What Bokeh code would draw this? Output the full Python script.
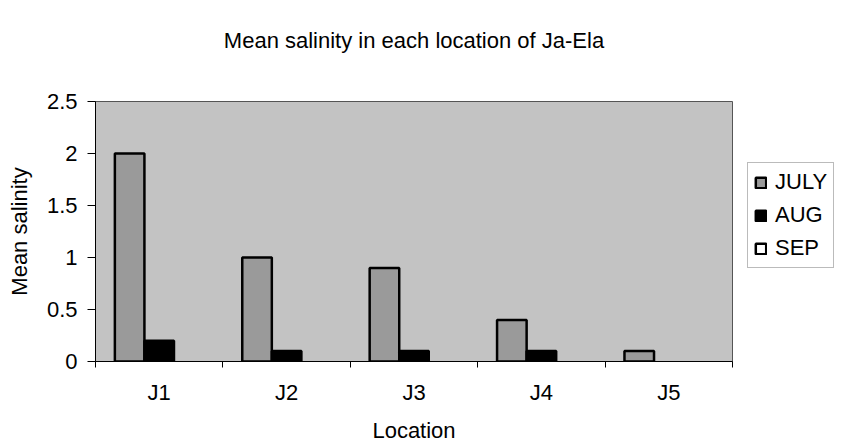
from bokeh.plotting import figure
from bokeh.models import FixedTicker, Range1d, Legend, LegendItem, ColumnDataSource, Title
from bokeh.embed import file_html
from bokeh.resources import INLINE
import numpy as np

# ---- data ----
locations = ["J1", "J2", "J3", "J4", "J5"]
series_names = ["JULY", "AUG", "SEP"]
july = [2.0, 1.0, 0.9, 0.4, 0.1]
aug = [0.2, 0.1, 0.1, 0.1, 0.0]
sep = [0.0, 0.0, 0.0, 0.0, 0.0]
y_ticks = [0, 0.5, 1, 1.5, 2, 2.5]

colors = ["#9a9a9a", "#000000", "#ffffff"]
FONT = "Liberation Sans"
FS = "22px"
bar_w = 0.232

p = figure(frame_width=637, frame_height=260, x_range=Range1d(0.5, 5.5), y_range=Range1d(0, 2.5),
           output_backend="svg", toolbar_location=None,
           min_border_left=95, min_border_right=115, min_border_top=101, min_border_bottom=80)

p.background_fill_color = "#c3c3c3"
p.border_fill_color = "white"
p.outline_line_color = "#555555"
p.outline_line_width = 1
p.xgrid.visible = False
p.ygrid.visible = False

xs = np.arange(1, len(locations) + 1)
renderers = []
for k, (name, vals) in enumerate(zip(series_names, [july, aug, sep])):
    v = np.array(vals, dtype=float)
    v_plot = np.where(v > 0, v, np.nan)   # zero-height bars are not drawn
    src = ColumnDataSource(dict(x=xs + (k - 1) * bar_w, top=v_plot))
    r = p.vbar(x="x", top="top", bottom=0, width=bar_w, source=src,
               fill_color=colors[k], line_color="black", line_width=2.5)
    renderers.append(r)

# title: a blank spacer next to the frame, then the real title above it
p.title.visible = False
p.add_layout(Title(text=" ", text_font_size="38px", standoff=0), "above")
p.add_layout(Title(text="Mean salinity in each location of Ja-Ela", text_font=FONT,
                   text_font_size=FS, text_font_style="normal", text_color="black",
                   align="center"), "above")

# x axis
xa = p.xaxis[0]
xa.ticker = FixedTicker(ticks=list(xs), minor_ticks=list(np.arange(0.5, len(locations) + 1, 1.0)))
xa.major_label_overrides = {int(i): lab for i, lab in zip(xs, locations)}
xa.major_tick_out = 0
xa.major_tick_in = 0
xa.minor_tick_out = 6
xa.minor_tick_in = 0
xa.minor_tick_line_color = "black"
xa.axis_line_color = "black"
xa.major_label_standoff = 12
xa.major_label_text_font = FONT
xa.major_label_text_font_size = FS
xa.major_label_text_color = "black"
xa.axis_label = "Location"
xa.axis_label_text_font = FONT
xa.axis_label_text_font_size = FS
xa.axis_label_text_font_style = "normal"
xa.axis_label_text_color = "black"
xa.axis_label_standoff = 10

# y axis
ya = p.yaxis[0]
ya.ticker = FixedTicker(ticks=y_ticks, minor_ticks=[])
ya.major_label_overrides = {t: f"{t:g}" for t in y_ticks}
ya.major_tick_out = 8
ya.major_tick_in = 0
ya.axis_line_color = "black"
ya.major_label_standoff = 10
ya.major_label_text_font = FONT
ya.major_label_text_font_size = FS
ya.major_label_text_color = "black"
ya.axis_label = "Mean salinity"
ya.axis_label_text_font = FONT
ya.axis_label_text_font_size = FS
ya.axis_label_text_font_style = "normal"
ya.axis_label_text_color = "black"
ya.axis_label_standoff = 12

legend = Legend(items=[LegendItem(label=n, renderers=[r]) for n, r in zip(series_names, renderers)],
                location=(15, 93), margin=0, padding=6, spacing=7, label_standoff=8,
                glyph_width=13, glyph_height=13, label_height=22,
                label_text_font=FONT, label_text_font_size=FS, label_text_color="black",
                border_line_color="#777777", border_line_width=1,
                background_fill_color="white")
p.add_layout(legend, "right")

open("out.html", "w").write(file_html(p, INLINE))
